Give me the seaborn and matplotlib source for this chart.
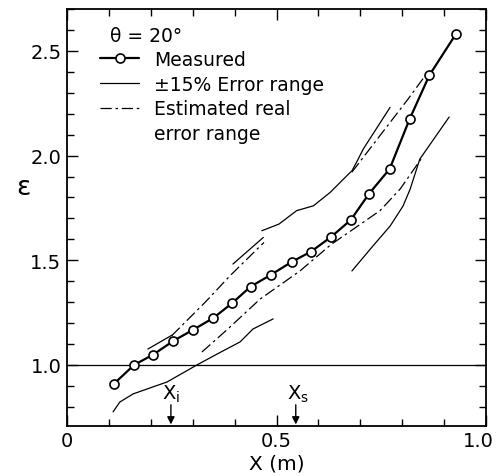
import matplotlib
matplotlib.use("Agg")
import matplotlib.pyplot as plt
import matplotlib.transforms as mtransforms
import seaborn as sns
from matplotlib.lines import Line2D
from matplotlib.ticker import MultipleLocator

# ---- data ----
measured_x = [0.112, 0.160, 0.206, 0.254, 0.300, 0.349, 0.394, 0.438, 0.487,
              0.536, 0.582, 0.630, 0.677, 0.721, 0.770, 0.818, 0.865, 0.928]
measured_y = [0.91, 1.00, 1.05, 1.115, 1.167, 1.224, 1.295, 1.374, 1.431,
              1.492, 1.541, 1.611, 1.692, 1.818, 1.936, 2.176, 2.384, 2.58]

# +/-15% error range (solid thin), drawn in pieces
err_up1_x = [0.193, 0.251]
err_up1_y = [1.076, 1.143]
err_up2_x = [0.396, 0.4685]
err_up2_y = [1.482, 1.609]
err_up3_x = [0.465, 0.506, 0.548, 0.588, 0.628, 0.668, 0.680, 0.691, 0.707, 0.771]
err_up3_y = [1.641, 1.673, 1.737, 1.760, 1.824, 1.904, 1.927, 1.968, 2.031, 2.230]
err_lo1_x = [0.110, 0.126, 0.158, 0.239, 0.310, 0.358, 0.413, 0.444, 0.492]
err_lo1_y = [0.776, 0.823, 0.862, 0.919, 1.000, 1.052, 1.110, 1.172, 1.220]
err_lo2_x = [0.680, 0.730, 0.771, 0.802, 0.819, 0.842, 0.912]
err_lo2_y = [1.449, 1.568, 1.663, 1.759, 1.840, 1.983, 2.184]

# estimated real error range (dash-dot thin)
est_up1_x = [0.250, 0.330, 0.389, 0.470]
est_up1_y = [1.140, 1.300, 1.426, 1.585]
est_up2_x = [0.680, 0.814, 0.858]
est_up2_y = [1.921, 2.270, 2.390]
est_lo_x = [0.322, 0.384, 0.461, 0.556, 0.630, 0.706, 0.747, 0.795, 0.850]
est_lo_y = [1.062, 1.172, 1.315, 1.449, 1.575, 1.680, 1.737, 1.840, 1.998]

x_ticks = [0, 0.5, 1.0]
x_ticklabels = ["0", "0.5", "1.0"]
y_ticks = [1.0, 1.5, 2.0, 2.5]
y_ticklabels = ["1.0", "1.5", "2.0", "2.5"]
x_i = 0.248
x_s = 0.546

# ---- styling ----
sns.set_theme(style="ticks")
plt.rcParams['font.family'] = ['DejaVu Sans']
plt.rcParams['axes.edgecolor'] = 'black'
plt.rcParams['xtick.color'] = 'black'
plt.rcParams['ytick.color'] = 'black'
plt.rcParams['text.color'] = 'black'
plt.rcParams['axes.labelcolor'] = 'black'

DASHDOT = (0, (9, 3, 2, 3))
THIN = 0.9

fig = plt.figure(figsize=(4.97, 4.77), dpi=100)
ax = fig.add_axes([67 / 497, (477 - 426.7) / 477, 419 / 497, 416.7 / 477])


def thin_line(x, y, ls):
    sns.lineplot(x=x, y=y, ax=ax, sort=False, estimator=None,
                 color='black', linewidth=THIN, linestyle=ls)


ax.axhline(1.0, color='black', linewidth=THIN)

for xs, ys in [(err_up1_x, err_up1_y), (err_up2_x, err_up2_y), (err_up3_x, err_up3_y),
               (err_lo1_x, err_lo1_y), (err_lo2_x, err_lo2_y)]:
    thin_line(xs, ys, '-')
for xs, ys in [(est_up1_x, est_up1_y), (est_up2_x, est_up2_y), (est_lo_x, est_lo_y)]:
    thin_line(xs, ys, DASHDOT)

sns.lineplot(x=measured_x, y=measured_y, ax=ax, sort=False, estimator=None,
             color='black', linewidth=1.6, marker='o', markersize=6.5,
             markerfacecolor='white', markeredgecolor='black',
             markeredgewidth=1.2, zorder=5)

ax.set_xlim(0, 1.0)
ax.set_ylim(0.71, 2.70)
ax.set_xticks(x_ticks)
ax.set_xticklabels(x_ticklabels)
ax.set_yticks(y_ticks)
ax.set_yticklabels(y_ticklabels)
ax.xaxis.set_minor_locator(MultipleLocator(0.1))
ax.yaxis.set_minor_locator(MultipleLocator(0.1))
ax.tick_params(which='both', direction='in', top=True, right=True, width=1.0)
ax.tick_params(which='major', length=8, labelsize=14, pad=4)
ax.tick_params(which='minor', length=5)
for s in ax.spines.values():
    s.set_linewidth(1.3)

# keep the "1.0" x tick label inside the figure
last = ax.get_xticklabels()[-1]
last.set_transform(last.get_transform() +
                   mtransforms.ScaledTranslation(-8 / 100, 0, fig.dpi_scale_trans))

ax.set_xlabel("X (m)", fontsize=14.5, labelpad=2)
ax.set_ylabel("ε", fontsize=19, rotation=0, va='center', ha='center')
ax.yaxis.set_label_coords((23 - 67) / 419, (426.7 - 188) / 416.7)

# theta annotation
ax.text((110 - 67) / 419, (426.7 - 37) / 416.7, "θ = 20°", transform=ax.transAxes,
        fontsize=13.5, ha='left', va='center')

# legend
handles = [
    Line2D([], [], color='black', linewidth=1.6, marker='o', markersize=6.5,
           markerfacecolor='white', markeredgecolor='black', markeredgewidth=1.2),
    Line2D([], [], color='black', linewidth=THIN, linestyle='-'),
    Line2D([], [], color='black', linewidth=THIN, linestyle=DASHDOT),
    Line2D([], [], color='none', linewidth=0),
]
labels = ["Measured", "±15% Error range", "Estimated real", "error range"]
ax.legend(handles, labels, loc='upper left',
          bbox_to_anchor=((100 - 67) / 419, (426.7 - 51) / 416.7),
          frameon=False, fontsize=13.5, handlelength=2.1, handletextpad=0.8,
          labelspacing=0.3, borderpad=0, borderaxespad=0)

# Xi / Xs arrows
arrow_kw = dict(arrowstyle='-|>', color='black', lw=1.0, mutation_scale=11,
                shrinkA=0, shrinkB=0)
for xv, lab in [(x_i, r"X$_\mathrm{i}$"), (x_s, r"X$_\mathrm{s}$")]:
    ax.annotate('', xy=(xv, 0.716), xytext=(xv, 0.81), arrowprops=arrow_kw)
    ax.text(xv - 0.022, 0.815, lab, fontsize=14, ha='left', va='bottom')

fig.savefig("out.png", dpi=100)
